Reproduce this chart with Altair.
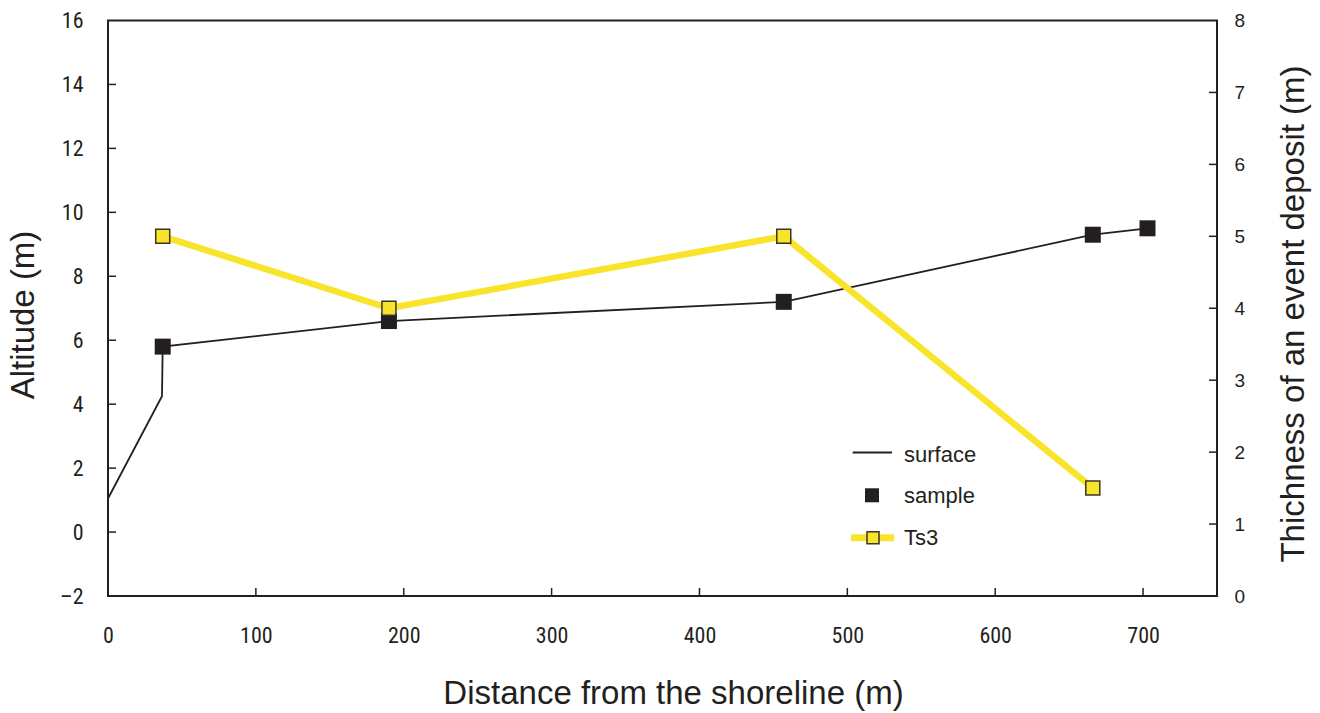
import altair as alt
import pandas as pd

# ---- data ----
surface_x = [0, 36.5, 37, 190, 457, 666, 703]
surface_y = [1.05, 4.25, 5.8, 6.6, 7.2, 9.3, 9.5]
sample_x = [37, 190, 457, 666, 703]
sample_y = [5.8, 6.6, 7.2, 9.3, 9.5]
ts3_x = [37, 190, 457, 666]
ts3_y = [5.0, 4.0, 5.0, 1.5]
x_ticks = [0, 100, 200, 300, 400, 500, 600, 700]
left_ticks = [-2, 0, 2, 4, 6, 8, 10, 12, 14, 16]
right_ticks = [0, 1, 2, 3, 4, 5, 6, 7, 8]
legend_labels = ["surface", "sample", "Ts3"]

W, H = 1109, 575.5
INK = "#231f20"
YEL = "#f9e42c"
NARROW = "Roboto Condensed, Liberation Sans"
SANS = "Liberation Sans"

xscale = alt.Scale(domain=[0, 750], nice=False, zero=False)
lscale = alt.Scale(domain=[-2, 16], nice=False, zero=False)
rscale = alt.Scale(domain=[0, 8], nice=False, zero=False)

surface_df = pd.DataFrame({"x": surface_x, "y": surface_y})
sample_df = pd.DataFrame({"x": sample_x, "y": sample_y})
ts3_df = pd.DataFrame({"x": ts3_x, "y": ts3_y})
xt_df = pd.DataFrame({"x": x_ticks[1:]})
lt_df = pd.DataFrame({"y": left_ticks[1:-1]})
rt_df = pd.DataFrame({"y": right_ticks[1:-1]})
one = pd.DataFrame({"a": [0]})

x_axis = alt.Axis(values=x_ticks, ticks=False, domain=False, grid=False, format="d",
                  labelFont=NARROW, labelFontSize=22, labelColor=INK, labelPadding=29,
                  labelFlush=False,
                  title="Distance from the shoreline (m)", titleFont=SANS, titleFontSize=33,
                  titleFontWeight="normal", titleColor=INK, titleX=565, titleY=107,
                  titleBaseline="alphabetic", titleAlign="center")
l_axis = alt.Axis(orient="left", values=left_ticks, ticks=False, domain=False, grid=False,
                  format="d",
                  labelExpr="datum.value < 0 ? '\u2013' + abs(datum.value) : datum.label",
                  labelFont=NARROW, labelFontSize=22, labelColor=INK, labelPadding=25,
                  labelOverlap=False, labelFlush=False,
                  title="Altitude (m)", titleFont=SANS, titleFontSize=33,
                  titleFontWeight="normal", titleColor=INK, titleAngle=270,
                  titleX=-75, titleY=294, titleBaseline="alphabetic", titleAlign="center")
r_axis = alt.Axis(orient="right", values=right_ticks, ticks=False, domain=False,
                  grid=False, format="d", labelFont=SANS, labelFontSize=19, labelColor=INK,
                  labelPadding=17, labelOverlap=False, labelFlush=False,
                  title="Thichness of an event deposit (m)", titleFont=SANS, titleFontSize=33,
                  titleFontWeight="normal", titleColor=INK, titleAngle=270,
                  titleX=86, titleY=293, titleBaseline="alphabetic", titleAlign="center")

surface = alt.Chart(surface_df).mark_line(color=INK, strokeWidth=1.8).encode(
    x=alt.X("x:Q", scale=xscale, axis=x_axis),
    y=alt.Y("y:Q", scale=lscale, axis=l_axis),
)
samples = alt.Chart(sample_df).mark_square(size=256, color=INK, opacity=1).encode(
    x=alt.X("x:Q", scale=xscale),
    y=alt.Y("y:Q", scale=lscale),
)
xticks = alt.Chart(xt_df).mark_rule(color=INK, strokeWidth=1.5).encode(
    x=alt.X("x:Q", scale=xscale),
    y=alt.value(H), y2=alt.value(H - 8),
)
lticks = alt.Chart(lt_df).mark_rule(color=INK, strokeWidth=1.5).encode(
    y=alt.Y("y:Q", scale=lscale),
    x=alt.value(0), x2=alt.value(8),
)
left = alt.layer(surface, samples, xticks, lticks)

ts3_line = alt.Chart(ts3_df).mark_line(color=YEL, strokeWidth=6.5).encode(
    x=alt.X("x:Q", scale=xscale),
    y=alt.Y("y:Q", scale=rscale, axis=r_axis),
)
ts3_pts = alt.Chart(ts3_df).mark_square(size=196, filled=True, fill=YEL, stroke="#3b3524",
                                        strokeWidth=1.5, opacity=1).encode(
    x=alt.X("x:Q", scale=xscale),
    y=alt.Y("y:Q", scale=rscale),
)
rticks = alt.Chart(rt_df).mark_rule(color=INK, strokeWidth=1.5).encode(
    y=alt.Y("y:Q", scale=rscale),
    x=alt.value(W - 8), x2=alt.value(W),
)
right = alt.layer(ts3_line, ts3_pts, rticks)

# ---- legend ----
base = alt.Chart(one)
leg_surface = base.mark_rule(color=INK, strokeWidth=1.8).encode(
    x=alt.value(744.7), x2=alt.value(784), y=alt.value(432))
leg_sample = base.mark_square(size=196, color=INK, opacity=1).encode(
    x=alt.value(764), y=alt.value(474.8))
leg_ts3_line = base.mark_rule(color=YEL, strokeWidth=7).encode(
    x=alt.value(743), x2=alt.value(786), y=alt.value(517.3))
leg_ts3_pt = base.mark_square(size=144, filled=True, fill=YEL, stroke="#3b3524",
                              strokeWidth=1.5, opacity=1).encode(
    x=alt.value(765), y=alt.value(517.3))
texts = []
for lab, yy in zip(legend_labels, [441, 482.3, 524.3]):
    texts.append(base.mark_text(align="left", baseline="alphabetic", font=SANS,
                                fontSize=22, color=INK).encode(
        x=alt.value(796), y=alt.value(yy), text=alt.value(lab)))

chart = alt.layer(left, right, leg_surface, leg_sample, leg_ts3_line, leg_ts3_pt, *texts
                  ).resolve_scale(y="independent").properties(
    width=W, height=H,
    padding={"left": 108, "top": 20.5, "right": 1320 - 108 - W, "bottom": 713 - 20.5 - H},
    autosize=alt.AutoSizeParams(type="none"),
    background="white",
).configure_view(stroke=INK, strokeWidth=2)

chart.save("out.html", embed_options={"renderer": "svg", "actions": False})
